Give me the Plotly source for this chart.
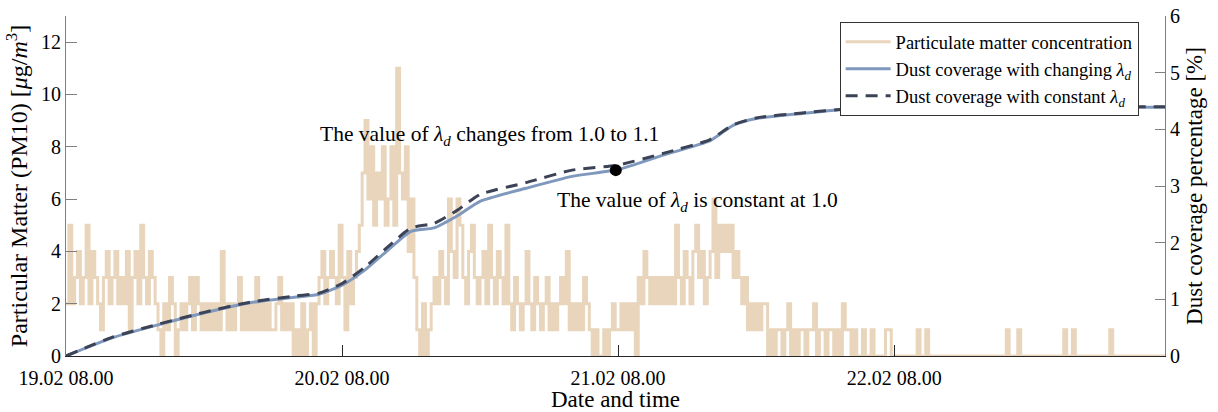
import plotly.graph_objects as go

# ---------------- data ----------------
# PM10 concentration, 15-minute samples starting 19.02 08.00 (hours from start)
pm_step_h = 0.25
pm_rows = [
    [2, 5, 2, 3, 4, 2, 3, 5, 2, 4, 3, 2, 1, 3, 4, 2],
    [3, 4, 2, 3, 2, 4, 1, 3, 4, 2, 5, 3, 2, 4, 3, 2],
    [1, 0, 2, 1, 3, 2, 0, 1, 2, 1, 2, 3, 1, 3, 2, 1],
    [2, 1, 2, 1, 2, 1, 4, 2, 1, 2, 1, 2, 3, 1, 2, 1],
    [2, 1, 3, 1, 2, 1, 2, 1, 1, 2, 3, 1, 2, 1, 2, 0],
    [1, 0, 2, 0, 1, 2, 0, 2, 3, 4, 2, 3, 4, 3, 2, 5],
    [3, 1, 4, 2, 3, 4, 5, 7, 9, 6, 8, 5, 7, 6, 8, 5],
    [6, 8, 5, 11, 7, 6, 8, 4, 6, 3, 1, 0, 2, 0, 1, 2],
    [3, 2, 4, 3, 2, 6, 4, 3, 6, 5, 3, 2, 4, 5, 3, 2],
    [3, 4, 2, 5, 3, 2, 4, 3, 2, 5, 2, 1, 3, 2, 1, 2],
    [4, 2, 1, 3, 2, 1, 2, 3, 1, 2, 1, 2, 3, 2, 4, 1],
    [2, 1, 2, 1, 3, 2, 1, 0, 1, 0, 0, 1, 0, 1, 2, 1],
    [1, 2, 1, 2, 1, 2, 0, 3, 2, 4, 3, 2, 3, 2, 3, 2],
    [3, 2, 3, 2, 5, 3, 2, 4, 3, 2, 4, 5, 3, 4, 2, 3],
    [4, 6, 3, 5, 4, 5, 4, 5, 3, 4, 3, 2, 3, 1, 2, 1],
    [2, 1, 2, 2, 0, 1, 0, 1, 1, 0, 1, 2, 0, 1, 0, 1],
    [1, 0, 1, 1, 2, 0, 1, 1, 0, 1, 1, 0, 1, 0, 2, 1],
    [1, 0, 1, 0, 0, 1, 0, 0, 1, 0, 0, 0, 0, 1, 1, 0],
    [0, 0, 0, 0, 0, 0, 0, 0, 1, 0, 0, 1, 0, 0, 0, 0],
    [0, 0, 0, 0, 0, 0, 0, 0, 0, 0, 0, 0, 0, 0, 0, 0],
    [0, 0, 0, 0, 0, 0, 0, 1, 0, 0, 0, 1, 0, 0, 0, 0],
    [0, 0, 0, 0, 0, 0, 0, 0, 0, 0, 0, 1, 0, 0, 1, 0],
    [0, 0, 0, 0, 0, 0, 0, 0, 0, 0, 0, 1, 0, 0, 0, 0],
    [0, 0, 0, 0, 0, 0, 0, 0, 0, 0, 0, 0, 0, 0, 0, 0],
]
pm_values = [v for row in pm_rows for v in row]
pm_hours = [i * pm_step_h for i in range(len(pm_values))]

# Dust coverage [%]
cov_hours = [0, 4, 8, 12, 16, 20, 22, 24, 26, 28, 30, 32, 34, 36, 40, 44, 48,
             52, 56, 58, 60, 64, 68, 72, 80, 88, 95.6]
cov_changing = [0, 0.32, 0.55, 0.76, 0.94, 1.04, 1.09, 1.25, 1.52, 1.87, 2.20,
                2.26, 2.47, 2.73, 2.96, 3.17, 3.29, 3.55, 3.80, 4.07, 4.19,
                4.28, 4.36, 4.39, 4.39, 4.39, 4.39]
cov_constant = [0, 0.33, 0.56, 0.77, 0.95, 1.06, 1.11, 1.28, 1.57, 1.93, 2.26,
                2.34, 2.57, 2.85, 3.06, 3.28, 3.37, 3.58, 3.82, 4.08, 4.20,
                4.29, 4.36, 4.40, 4.40, 4.40, 4.40]

change_point_h = [47.8]
change_point_val = [3.28]

x_tick_hours = [0, 24, 48, 72]
x_tick_text = ["19.02 08.00", "20.02 08.00", "21.02 08.00", "22.02 08.00"]
x_end_h = 95.55

# ---------------- figure ----------------
FONT = "Liberation Serif"
PM_COLOR = "#E8D5BC"
BLUE = "#7F98BD"
DARK = "#3D4356"
AX_GREY = "#7F7F7F"

fig = go.Figure()
fig.add_trace(go.Scatter(
    x=pm_hours, y=pm_values, mode="lines", line=dict(color=PM_COLOR, width=3, shape="hv"),
    name="Particulate matter concentration", yaxis="y"))
fig.add_trace(go.Scatter(
    x=cov_hours, y=cov_changing, mode="lines", line=dict(color=BLUE, width=3, shape="spline", smoothing=0.6),
    name="Dust coverage with changing <i>λ</i><sub><i>d</i></sub>", yaxis="y2"))
fig.add_trace(go.Scatter(
    x=cov_hours, y=cov_constant, mode="lines",
    line=dict(color=DARK, width=3, dash="12px,8px", shape="spline", smoothing=0.6),
    name="Dust coverage with constant <i>λ</i><sub><i>d</i></sub>", yaxis="y2"))
fig.add_trace(go.Scatter(
    x=change_point_h, y=change_point_val, mode="markers",
    marker=dict(color="black", size=12), showlegend=False, yaxis="y2"))

fig.update_layout(
    width=1218, height=412,
    margin=dict(l=66, r=53, t=16, b=56, autoexpand=False),
    paper_bgcolor="white", plot_bgcolor="white",
    font=dict(family=FONT, size=20, color="#000000"),
    showlegend=True,
    legend=dict(x=0.976, y=0.982, xanchor="right", yanchor="top",
                bgcolor="white", bordercolor="#333333", borderwidth=1,
                font=dict(family=FONT, size=18.5), itemwidth=45,
                tracegroupgap=0),
    xaxis=dict(range=[0, x_end_h], tickvals=x_tick_hours, ticktext=x_tick_text,
               ticks="inside", ticklen=11, tickcolor="#262626", showline=True,
               linecolor="#262626", linewidth=1, showgrid=False, zeroline=False,
               tickfont=dict(size=20), automargin=False, ticklabelstandoff=4,
               title=dict(text="Date and time", font=dict(size=23), standoff=4)),
    yaxis=dict(range=[0, 13], tickvals=[0, 2, 4, 6, 8, 10, 12], ticks="inside",
               ticklen=11, tickcolor=AX_GREY, showline=True, linecolor=AX_GREY,
               linewidth=1, showgrid=False, zeroline=False, tickfont=dict(size=20),
               automargin=False,
               title=dict(text="Particular Matter (PM10) [<i>μ</i>g/<i>m</i><sup>3</sup>]",
                          font=dict(size=24), standoff=6)),
    yaxis2=dict(range=[0, 6], tickvals=[0, 1, 2, 3, 4, 5, 6], overlaying="y",
                side="right", anchor="x", ticks="inside", ticklen=10,
                tickcolor=AX_GREY, showline=True, linecolor=AX_GREY, linewidth=1,
                showgrid=False, zeroline=False, tickfont=dict(size=20),
                automargin=False,
                title=dict(text="Dust coverage percentage [%]", font=dict(size=23),
                           standoff=6)),
)

fig.add_annotation(x=36.8, y=3.9, xref="x", yref="y2", showarrow=False,
                   text="The value of <i>λ</i><sub><i>d</i></sub> changes from 1.0 to 1.1",
                   font=dict(family=FONT, size=21.5))
fig.add_annotation(x=54.9, y=2.73, xref="x", yref="y2", showarrow=False,
                   text="The value of <i>λ</i><sub><i>d</i></sub> is constant at 1.0",
                   font=dict(family=FONT, size=21.5))

fig.write_html("out.html", config={"displayModeBar": False},
               post_script="document.body.style.margin='0';")
